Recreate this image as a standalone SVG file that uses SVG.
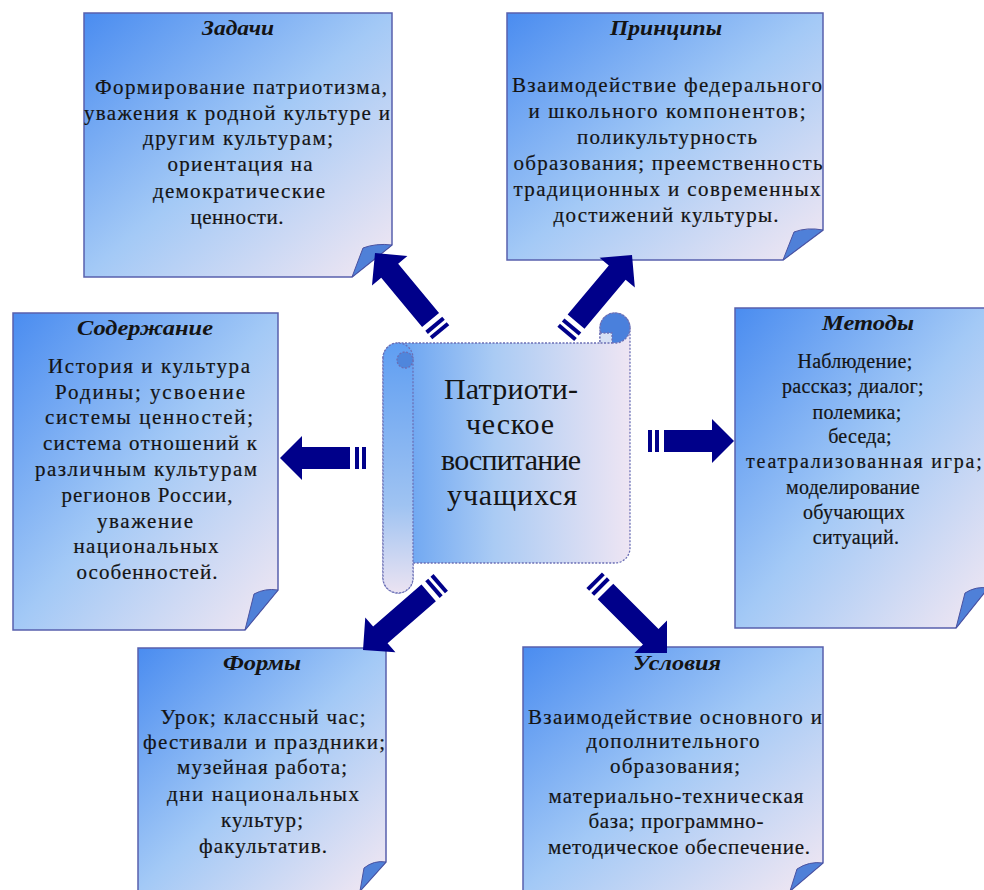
<svg xmlns="http://www.w3.org/2000/svg" width="984" height="890" viewBox="0 0 984 890">
<defs>
<linearGradient id="boxg" x1="0" y1="0" x2="1" y2="1">
<stop offset="0" stop-color="#4a8cf0"/>
<stop offset="0.5" stop-color="#a3c9f6"/>
<stop offset="1" stop-color="#f4e8f2"/>
</linearGradient>
<linearGradient id="scrollg" x1="0" y1="0" x2="1" y2="0">
<stop offset="0" stop-color="#5d9cf1"/>
<stop offset="0.45" stop-color="#aacbf4"/>
<stop offset="1" stop-color="#eee5f3"/>
</linearGradient>
<linearGradient id="rollg" x1="0" y1="0" x2="0" y2="1">
<stop offset="0" stop-color="#5f9ef2"/>
<stop offset="0.65" stop-color="#9fc3f2"/>
<stop offset="1" stop-color="#ebe3f2"/>
</linearGradient>
<g id="arrS">
<path d="M0,0 L-22,-22 L-22,-11 L-70,-11 L-70,11 L-22,11 L-22,22 Z"/>
<rect x="-79" y="-11" width="4" height="22"/>
<rect x="-86" y="-11" width="4" height="22"/>
</g>
<g id="arrL">
<path d="M0,0 L-23,-23 L-23,-11 L-87,-11 L-87,11 L-23,11 L-23,23 Z"/>
<rect x="-96" y="-11" width="4" height="22"/>
<rect x="-103" y="-11" width="4" height="22"/>
</g>
</defs>
<style>
.page{fill:url(#boxg);stroke:#5860ad;stroke-width:1.5}
.flap{fill:#4f80d8;stroke:#4a52a0;stroke-width:1}
.t{font-family:"Liberation Serif","Times New Roman",serif;font-size:21px;fill:#141414;stroke:#141414;stroke-width:0.2;text-anchor:middle}
.m{font-family:"Liberation Serif","Times New Roman",serif;font-size:20px;fill:#141414;stroke:#141414;stroke-width:0.2;text-anchor:middle;letter-spacing:0.3px}
.h{font-family:"Liberation Serif","Times New Roman",serif;font-size:21px;font-weight:bold;font-style:italic;fill:#141414;text-anchor:middle}
.c{font-family:"Liberation Serif","Times New Roman",serif;font-size:30px;fill:#141414;text-anchor:middle}
.dot{stroke:#6b6fb5;stroke-width:1.3;stroke-dasharray:2 1.5}
.arrows{fill:#00008a}
</style>
<rect width="984" height="890" fill="#ffffff"/>

<g id="node-zadachi">
<path class="page" d="M84,13 H392 V245 L352,277 H84 Z"/>
<path class="flap" d="M352,277 L363,248 Q376,243 392,245 Z"/>
<text class="h" x="238" y="35" textLength="72" lengthAdjust="spacingAndGlyphs">Задачи</text>
<text class="t" x="241" y="94" textLength="292" lengthAdjust="spacing">Формирование патриотизма,</text>
<text class="t" x="237" y="120" textLength="306" lengthAdjust="spacing">уважения к родной культуре и</text>
<text class="t" x="238" y="145" textLength="190" lengthAdjust="spacing">другим культурам;</text>
<text class="t" x="240" y="171" textLength="145" lengthAdjust="spacing">ориентация на</text>
<text class="t" x="239" y="198" textLength="172" lengthAdjust="spacing">демократические</text>
<text class="t" x="237" y="224" textLength="93" lengthAdjust="spacing">ценности.</text>
</g>

<g id="node-principy">
<path class="page" d="M507,13 H823 V230 L783,260 H507 Z"/>
<path class="flap" d="M783,260 L794,232 Q807,227 823,230 Z"/>
<text class="h" x="666" y="35" textLength="112" lengthAdjust="spacingAndGlyphs">Принципы</text>
<text class="t" x="667" y="92" textLength="310" lengthAdjust="spacing">Взаимодействие федерального</text>
<text class="t" x="667" y="118" textLength="277" lengthAdjust="spacing">и школьного компонентов;</text>
<text class="t" x="667" y="144" textLength="180" lengthAdjust="spacing">поликультурность</text>
<text class="t" x="668" y="170" textLength="309" lengthAdjust="spacing">образования; преемственность</text>
<text class="t" x="667" y="196" textLength="307" lengthAdjust="spacing">традиционных и современных</text>
<text class="t" x="666" y="222" textLength="225" lengthAdjust="spacing">достижений культуры.</text>
</g>

<g id="node-soderzhanie">
<path class="page" d="M13,313 H278 V590 L245,630 H13 Z"/>
<path class="flap" d="M245,630 L254,594 Q265,588 278,590 Z"/>
<text class="h" x="145" y="335" textLength="136" lengthAdjust="spacingAndGlyphs">Содержание</text>
<text class="t" x="149" y="373" textLength="202" lengthAdjust="spacing">История и культура</text>
<text class="t" x="150" y="399" textLength="190" lengthAdjust="spacing">Родины; усвоение</text>
<text class="t" x="149" y="424" textLength="208" lengthAdjust="spacing">системы ценностей;</text>
<text class="t" x="150" y="450" textLength="214" lengthAdjust="spacing">система отношений к</text>
<text class="t" x="146" y="476" textLength="222" lengthAdjust="spacing">различным культурам</text>
<text class="t" x="147" y="502" textLength="171" lengthAdjust="spacing">регионов России,</text>
<text class="t" x="145" y="528" textLength="96" lengthAdjust="spacing">уважение</text>
<text class="t" x="146" y="553" textLength="145" lengthAdjust="spacing">национальных</text>
<text class="t" x="147" y="579" textLength="141" lengthAdjust="spacing">особенностей.</text>
</g>

<g id="node-metody">
<path class="page" d="M735,308 H988 V588 L956,628 H735 Z"/>
<path class="flap" d="M956,628 L965,593 Q976,586 988,588 Z"/>
<text class="h" x="868" y="330" textLength="92" lengthAdjust="spacingAndGlyphs">Методы</text>
<text class="m" x="855" y="368">Наблюдение;</text>
<text class="m" x="853" y="393">рассказ; диалог;</text>
<text class="m" x="857" y="419">полемика;</text>
<text class="m" x="860" y="443">беседа;</text>
<text class="m" x="864" y="468" textLength="236" lengthAdjust="spacing">театрализованная игра;</text>
<text class="m" x="853" y="494">моделирование</text>
<text class="m" x="854" y="519">обучающих</text>
<text class="m" x="856" y="544">ситуаций.</text>
</g>

<g id="node-formy">
<path class="page" d="M138,648 H386 V862 L360,891 H138 Z"/>
<path class="flap" d="M360,891 L364,868 Q374,860 386,862 Z"/>
<text class="h" x="262" y="670" textLength="78" lengthAdjust="spacingAndGlyphs">Формы</text>
<text class="t" x="263" y="724" textLength="205" lengthAdjust="spacing">Урок; классный час;</text>
<text class="t" x="264" y="749" textLength="242" lengthAdjust="spacing">фестивали и праздники;</text>
<text class="t" x="262" y="774" textLength="170" lengthAdjust="spacing">музейная работа;</text>
<text class="t" x="263" y="801" textLength="192" lengthAdjust="spacing">дни национальных</text>
<text class="t" x="262" y="827" textLength="82" lengthAdjust="spacing">культур;</text>
<text class="t" x="263" y="853" textLength="128" lengthAdjust="spacing">факультатив.</text>
</g>

<g id="node-usloviya">
<path class="page" d="M523,647 H823 V863 L790,891 H523 Z"/>
<path class="flap" d="M790,891 L797,869 Q809,861 823,863 Z"/>
<text class="h" x="677" y="670" textLength="88" lengthAdjust="spacingAndGlyphs">Условия</text>
<text class="t" x="675" y="724" textLength="294" lengthAdjust="spacing">Взаимодействие основного и</text>
<text class="t" x="673" y="748" textLength="173" lengthAdjust="spacing">дополнительного</text>
<text class="t" x="675" y="773" textLength="130" lengthAdjust="spacing">образования;</text>
<text class="t" x="676" y="803" textLength="255" lengthAdjust="spacing">материально-техническая</text>
<text class="t" x="676" y="828" textLength="175" lengthAdjust="spacing">база; программно-</text>
<text class="t" x="679" y="854" textLength="262" lengthAdjust="spacing">методическое обеспечение.</text>
</g>

<g id="node-center">
<path d="M398,343 H600 V328 A15,15 0 0 1 630,328 V548 A15,15 0 0 1 615,563 H413 V578 A15,15 0 0 1 383,578 V358 A15,15 0 0 1 398,343 Z" fill="url(#scrollg)" class="dot"/>
<path d="M383,358 A15,15 0 0 1 413,358 V578 A15,15 0 0 1 383,578 Z" fill="url(#rollg)" class="dot"/>
<circle cx="405" cy="360" r="8" fill="#4f86dc" class="dot"/>
<circle cx="615" cy="328" r="15" fill="#4a80dc" class="dot"/>
<rect x="600" y="333" width="12" height="10" fill="#d6e0f4" class="dot"/>
<text class="c" x="511" y="399" textLength="134" lengthAdjust="spacing">Патриоти-</text>
<text class="c" x="510" y="434" textLength="88" lengthAdjust="spacing">ческое</text>
<text class="c" x="511" y="470" textLength="140" lengthAdjust="spacing">воспитание</text>
<text class="c" x="512" y="505" textLength="130" lengthAdjust="spacing">учащихся</text>
</g>

<g id="connectors" class="arrows">
<use href="#arrL" transform="translate(375,253) rotate(-129.7)"/>
<use href="#arrL" transform="translate(632,255) rotate(-50)"/>
<use href="#arrS" transform="translate(280,458) rotate(180)"/>
<use href="#arrS" transform="translate(734,441)"/>
<use href="#arrL" transform="translate(363,650) rotate(139)"/>
<use href="#arrL" transform="translate(667,653) rotate(45)"/>
</g>
</svg>
